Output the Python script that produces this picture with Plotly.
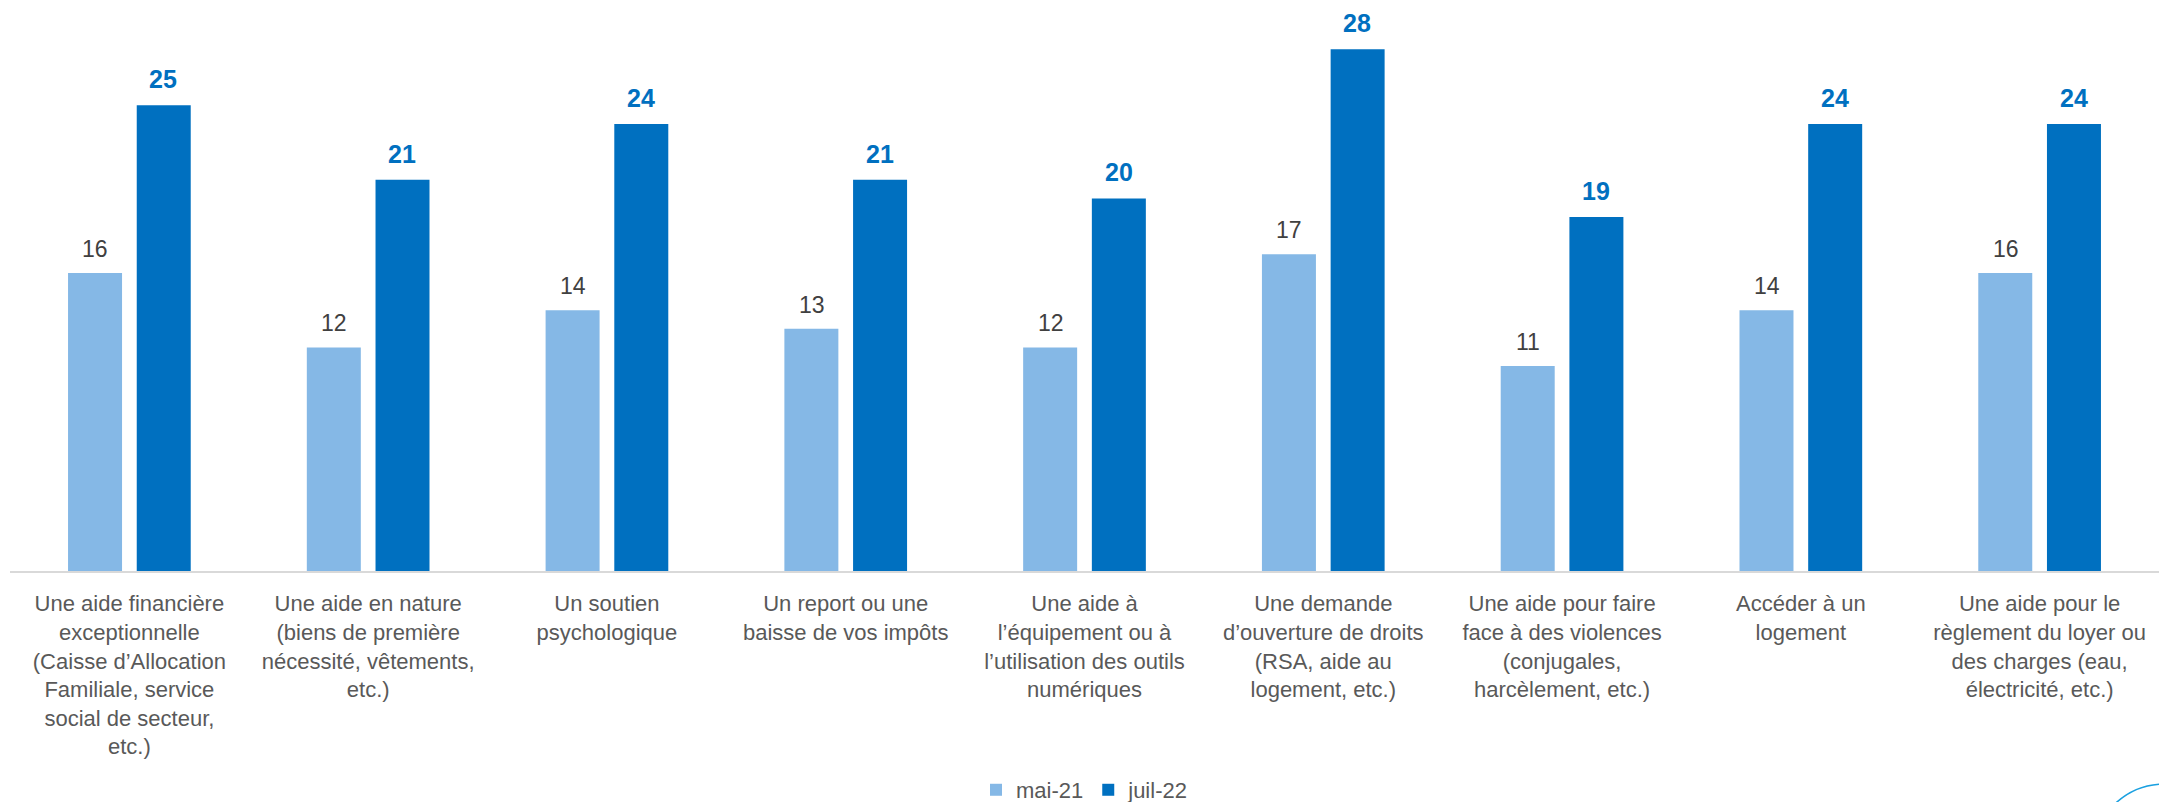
import plotly.graph_objects as go

categories = [
    "Une aide financière<br>exceptionnelle<br>(Caisse d’Allocation<br>Familiale, service<br>social de secteur,<br>etc.)",
    "Une aide en nature<br>(biens de première<br>nécessité, vêtements,<br>etc.)",
    "Un soutien<br>psychologique",
    "Un report ou une<br>baisse de vos impôts",
    "Une aide à<br>l’équipement ou à<br>l’utilisation des outils<br>numériques",
    "Une demande<br>d’ouverture de droits<br>(RSA, aide au<br>logement, etc.)",
    "Une aide pour faire<br>face à des violences<br>(conjugales,<br>harcèlement, etc.)",
    "Accéder à un<br>logement",
    "Une aide pour le<br>règlement du loyer ou<br>des charges (eau,<br>électricité, etc.)",
]
mai_21 = [16, 12, 14, 13, 12, 17, 11, 14, 16]
juil_22 = [25, 21, 24, 21, 20, 28, 19, 24, 24]

LIGHT = "#85B8E6"
DARK = "#0070C0"
FONT = "Liberation Sans, Arial, sans-serif"

fig = go.Figure()
fig.add_trace(go.Bar(name="mai-21", x=categories, y=mai_21,
                     marker=dict(color=LIGHT, line=dict(width=0))))
fig.add_trace(go.Bar(name="juil-22", x=categories, y=juil_22,
                     marker=dict(color=DARK, line=dict(width=0))))

# value labels above each bar
annotations = []
for cat, v in zip(categories, mai_21):
    annotations.append(dict(x=cat, y=v, xref="x", yref="y", text=str(v),
                            showarrow=False, xshift=-34, yshift=9,
                            yanchor="bottom",
                            font=dict(family=FONT, size=23, color="#404040")))
for cat, v in zip(categories, juil_22):
    annotations.append(dict(x=cat, y=v, xref="x", yref="y", text=f"<b>{v}</b>",
                            showarrow=False, xshift=34, yshift=10,
                            yanchor="bottom",
                            font=dict(family=FONT, size=25, color=DARK)))

fig.update_layout(
    width=2159, height=802,
    margin=dict(l=10, r=0, t=0, b=231, autoexpand=False),
    paper_bgcolor="white", plot_bgcolor="white",
    barmode="group", bargap=0.4246, bargroupgap=0.214,
    font=dict(family=FONT, color="#595959"),
    showlegend=True,
    legend=dict(orientation="h", x=0.5, xanchor="center",
                yref="container", y=0.015, yanchor="middle",
                font=dict(family=FONT, size=22, color="#595959"),
                itemwidth=30, traceorder="normal"),
    annotations=annotations,
    shapes=[dict(type="circle", xref="paper", yref="paper",
                 x0=0.9688, x1=1.0368, y0=-0.6287, y1=-0.373,
                 line=dict(color="#1AA0E0", width=1.6))],
)
fig.update_xaxes(showline=True, linecolor="#D9D9D9", linewidth=2,
                 showgrid=False, ticks="", ticklabelstandoff=12,
                 automargin=False,
                 tickfont=dict(family=FONT, size=22, color="#595959"),
                 tickangle=0)
fig.update_yaxes(range=[0, 30.65], visible=False, showgrid=False,
                 zeroline=False, automargin=False)

fig.write_html("out.html")
